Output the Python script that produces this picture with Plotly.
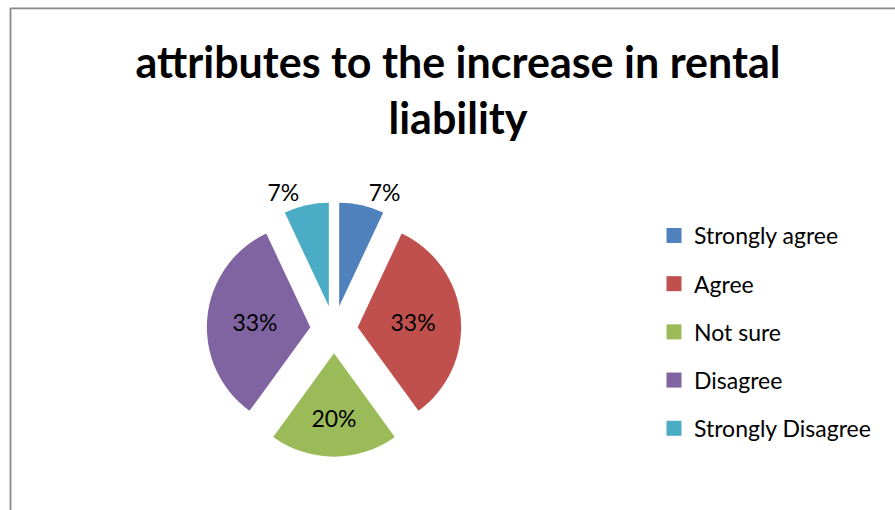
import plotly.graph_objects as go

# Survey responses: attributes to the increase in rental liability
categories = ["Strongly agree", "Agree", "Not sure", "Disagree", "Strongly Disagree"]
shares = [7, 33, 20, 33, 7]
colors = ["#4F81BD", "#C0504D", "#9BBB59", "#8064A2", "#4BACC6"]
label_positions = ["outside", "inside", "inside", "inside", "outside"]

W, H = 895, 510
FONT = "Lato"

fig = go.Figure()

fig.add_trace(go.Pie(
    labels=categories,
    values=shares,
    sort=False,
    direction="clockwise",
    rotation=0,
    pull=[0.23] * len(shares),
    marker=dict(colors=colors, line=dict(width=0)),
    textinfo="percent",
    texttemplate="%{percent:.0%}",
    textposition=label_positions,
    insidetextorientation="horizontal",
    textfont=dict(family=FONT, size=23, color="#000000"),
    domain=dict(x=[205 / W, 463 / W], y=[47 / H, 305 / H]),
    showlegend=False,
))

# Legend entries as square markers, one legend group per category
for name, col in zip(categories, colors):
    fig.add_trace(go.Scatter(
        x=[None], y=[None], mode="markers", name=name,
        legendgroup=name,
        marker=dict(symbol="square", size=15, color=col),
    ))

fig.update_layout(
    width=W, height=H,
    margin=dict(l=0, r=0, t=0, b=0),
    paper_bgcolor="white",
    plot_bgcolor="white",
    xaxis=dict(visible=False),
    yaxis=dict(visible=False),
    title=dict(
        text="attributes to the increase in rental<br>liability",
        font=dict(family=FONT, size=43, color="#000000", weight="bold"),
        x=458 / W, xanchor="center",
        y=1 - 78 / H, yanchor="middle",
    ),
    legend=dict(
        x=654 / W, xanchor="left",
        y=1 - 217 / H, yanchor="top",
        font=dict(family=FONT, size=23, color="#000000"),
        tracegroupgap=15.3,
        itemwidth=30,
        bgcolor="rgba(0,0,0,0)",
    ),
    shapes=[dict(
        type="rect", xref="paper", yref="paper",
        x0=10.5 / W, x1=1.05, y0=-0.05, y1=1 - 8.5 / H,
        line=dict(color="#878787", width=1.8),
        layer="below",
    )],
)

fig.write_html("out.html")
